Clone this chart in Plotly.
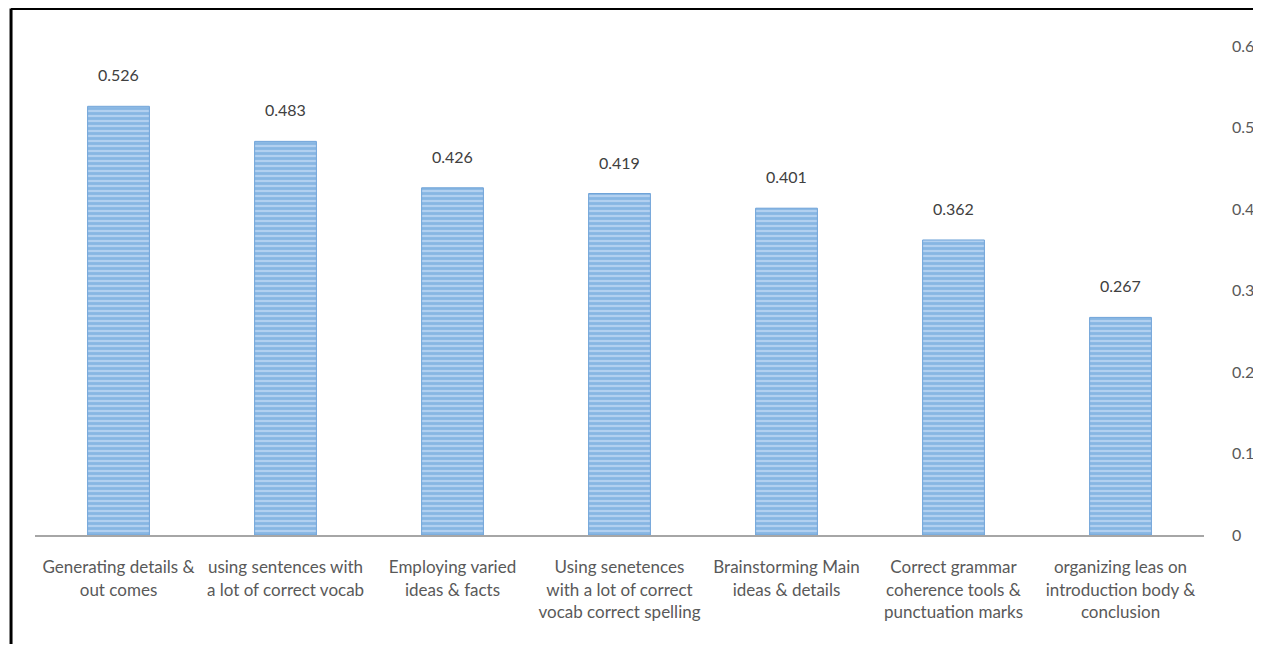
import plotly.graph_objects as go

categories = [
    "Generating details &<br>out comes",
    "using sentences with<br>a lot of correct vocab",
    "Employing varied<br>ideas & facts",
    "Using senetences<br>with a lot of correct<br>vocab correct spelling",
    "Brainstorming Main<br>ideas & details",
    "Correct grammar<br>coherence tools &<br>punctuation marks",
    "organizing leas on<br>introduction body &<br>conclusion",
]
values = [0.526, 0.483, 0.426, 0.419, 0.401, 0.362, 0.267]
value_labels = ["0.526", "0.483", "0.426", "0.419", "0.401", "0.362", "0.267"]
y_ticks = [0, 0.1, 0.2, 0.3, 0.4, 0.5, 0.6]
y_tick_labels = ["0", "0.1", "0.2", "0.3", "0.4", "0.5", "0.6"]

FONT = "Lato, Open Sans, sans-serif"

fig = go.Figure()
fig.add_trace(go.Bar(
    x=categories,
    y=values,
    width=0.37,
    marker=dict(
        color="#9CC2EA",
        line=dict(color="#6FA3D8", width=1),
        pattern=dict(shape="-", fgcolor="#5B9BD5", bgcolor="#B2D0F0", size=5, solidity=0.55),
    ),
))

annotations = [
    dict(x=c, y=v, text=t, showarrow=False, yanchor="bottom", yshift=20,
         font=dict(size=16, color="#404040", family=FONT))
    for c, v, t in zip(categories, values, value_labels)
]

fig.update_layout(
    width=1245, height=636,
    margin=dict(l=27, r=49, t=38, b=109),
    paper_bgcolor="white", plot_bgcolor="white",
    showlegend=False,
    font=dict(family=FONT, color="#595959", size=16),
    annotations=annotations,
    xaxis=dict(
        showline=True, linecolor="#A6A6A6", linewidth=2,
        showgrid=False, ticks="", tickangle=0,
        tickfont=dict(size=17, color="#595959", family=FONT),
        ticklabelstandoff=16, automargin=False,
        fixedrange=True,
    ),
    yaxis=dict(
        side="right", range=[0, 0.6], tickvals=y_ticks, ticktext=y_tick_labels,
        showgrid=False, zeroline=False, showline=False, ticks="",
        tickfont=dict(size=16, color="#595959", family=FONT),
        ticklabelstandoff=27, automargin=False,
    ),
    shapes=[
        dict(type="line", xref="paper", yref="paper", x0=-0.0205, x1=1.05, y0=1.0766, y1=1.0766,
             line=dict(color="black", width=3)),
        dict(type="line", xref="paper", yref="paper", x0=-0.0205, x1=-0.0205, y0=1.0766, y1=-0.25,
             line=dict(color="black", width=3)),
    ],
)

fig.write_html("out.html")
